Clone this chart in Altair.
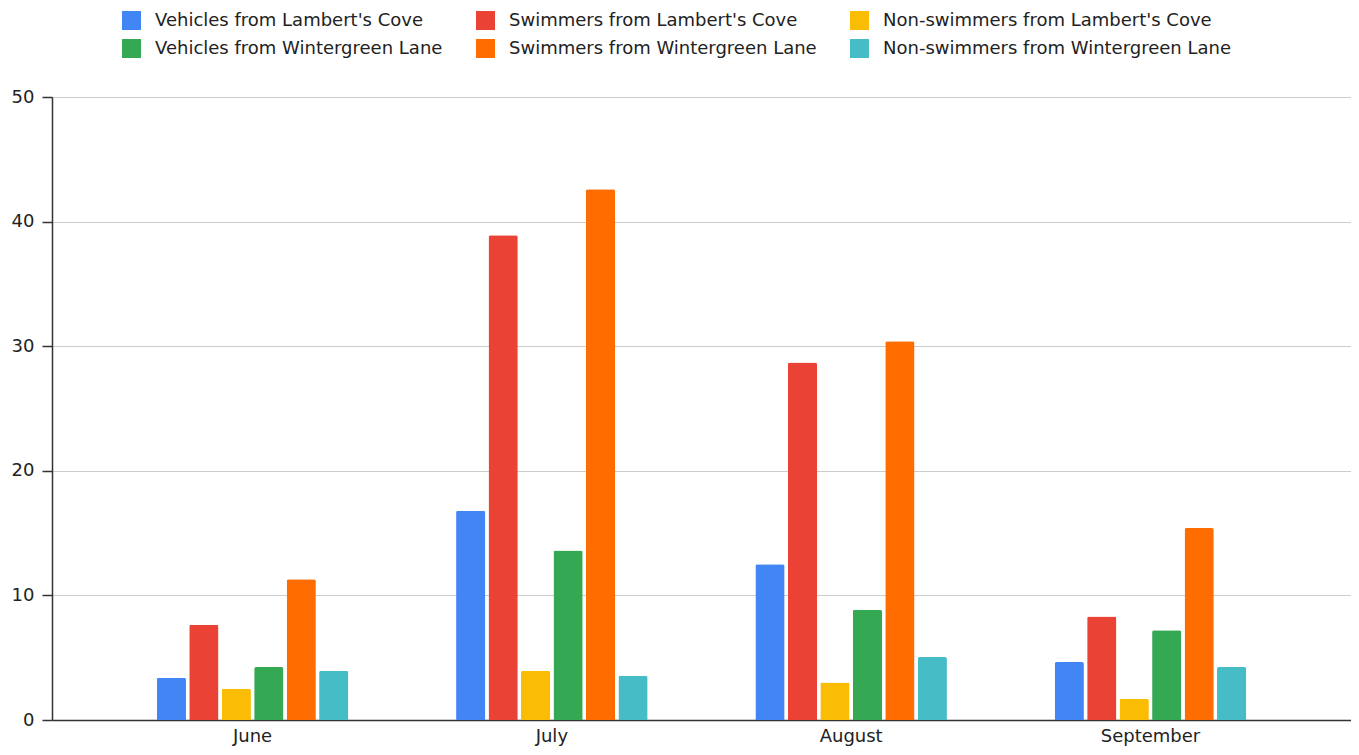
import altair as alt
import pandas as pd

months = ["June", "July", "August", "September"]
series = [
    "Vehicles from Lambert's Cove",
    "Swimmers from Lambert's Cove",
    "Non-swimmers from Lambert's Cove",
    "Vehicles from Wintergreen Lane",
    "Swimmers from Wintergreen Lane",
    "Non-swimmers from Wintergreen Lane",
]
colors = ["#4285F4", "#EA4335", "#FBBC04", "#34A853", "#FF6D01", "#46BDC6"]

vehicles_lc = [3.4, 16.8, 12.5, 4.65]
swimmers_lc = [7.65, 38.9, 28.7, 8.3]
nonswim_lc = [2.5, 3.95, 3.0, 1.7]
vehicles_wl = [4.25, 13.6, 8.85, 7.2]
swimmers_wl = [11.3, 42.6, 30.4, 15.4]
nonswim_wl = [3.95, 3.55, 5.05, 4.25]

values = [vehicles_lc, swimmers_lc, nonswim_lc, vehicles_wl, swimmers_wl, nonswim_wl]
rows = []
for s, vals in zip(series, values):
    for m, v in zip(months, vals):
        rows.append({"Month": m, "Series": s, "Value": v})
df = pd.DataFrame(rows)

FONT = "DejaVu Sans"

chart = alt.Chart(df).mark_bar(
    cornerRadiusTopLeft=2, cornerRadiusTopRight=2
).encode(
    x=alt.X("Month:N", sort=months, title=None,
            scale=alt.Scale(paddingInner=0.36, paddingOuter=0.35),
            axis=alt.Axis(labelAngle=0, ticks=False, grid=False, domainColor="#333333",
                          domainWidth=1.5, labelFontSize=18, labelColor="#222222",
                          labelPadding=7, labelFont=FONT)),
    xOffset=alt.XOffset("Series:N", sort=series, scale=alt.Scale(paddingInner=0.1)),
    y=alt.Y("Value:Q", title=None,
            scale=alt.Scale(domain=[0, 50], nice=False),
            axis=alt.Axis(values=[0, 10, 20, 30, 40, 50], grid=True, gridColor="#cccccc",
                          domainColor="#333333", domainWidth=1.5, tickColor="#333333",
                          tickSize=10, tickWidth=1.5, labelFontSize=18, labelColor="#222222",
                          labelPadding=8, labelFont=FONT)),
    color=alt.Color("Series:N", sort=series,
                    scale=alt.Scale(domain=series, range=colors),
                    legend=alt.Legend(title=None, orient="none", legendX=70, legendY=-86,
                                      columns=3, direction="horizontal",
                                      symbolType="square", symbolSize=361,
                                      symbolStrokeWidth=0, labelFontSize=18,
                                      labelFont=FONT, labelColor="#222222",
                                      labelOffset=14, columnPadding=33, rowPadding=9,
                                      labelLimit=500)),
).properties(
    width=1299, height=623,
    padding={"left": 44, "top": 89, "right": 0, "bottom": 27},
    autosize=alt.AutoSizeParams(type="none"),
).configure_view(stroke=None)

chart.save("out.html", embed_options={"renderer": "svg", "actions": False})
